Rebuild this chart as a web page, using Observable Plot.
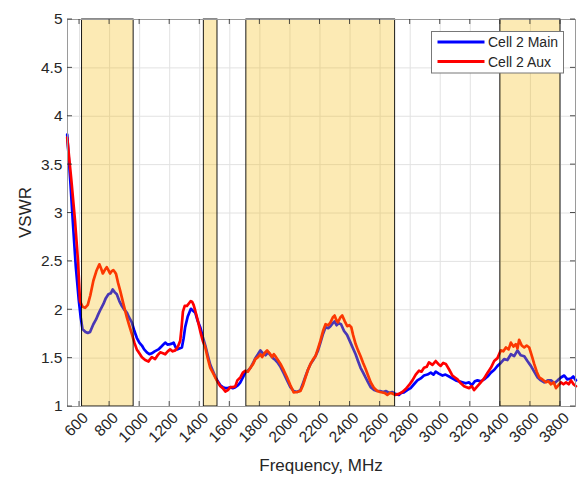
<!DOCTYPE html>
<html>
<head>
<meta charset="utf-8">
<script src="https://cdn.jsdelivr.net/npm/d3@7"></script>
<script src="https://cdn.jsdelivr.net/npm/@observablehq/plot@0.6"></script>
<style>
  body { margin: 0; background: white; }
</style>
</head>
<body>
<div id="chart"></div>
<script>
// ---- Data ----
const xTicks = [600, 800, 1000, 1200, 1400, 1600, 1800, 2000, 2200, 2400, 2600, 2800, 3000, 3200, 3400, 3600, 3800];
const yTicks = [1, 1.5, 2, 2.5, 3, 3.5, 4, 4.5, 5];

const bandStart = [617, 1427, 1710, 3400];
const bandEnd   = [960, 1518, 2700, 3800];

const seriesNames = ["Cell 2 Main", "Cell 2 Aux"];

const mainFreq = [518,540,555,575,595,608,620,640,655,670,692,710,725,742,759,775,792,808,821,835,848,865,881,898,915,930,948,965,981,998,1015,1030,1048,1065,1081,1100,1125,1145,1170,1185,1203,1215,1226,1237,1248,1265,1281,1292,1303,1320,1341,1355,1370,1385,1403,1420,1437,1453,1470,1487,1503,1520,1537,1553,1570,1587,1603,1620,1637,1655,1670,1687,1703,1720,1737,1755,1770,1787,1803,1820,1837,1855,1870,1887,1903,1920,1937,1960,1981,2003,2025,2048,2070,2087,2103,2120,2137,2155,2170,2187,2203,2220,2237,2255,2270,2285,2297,2310,2325,2340,2360,2380,2403,2420,2437,2453,2470,2487,2503,2520,2537,2560,2580,2600,2620,2640,2660,2680,2700,2725,2740,2758,2780,2803,2825,2848,2870,2892,2915,2937,2955,2970,2990,3015,3035,3059,3080,3103,3125,3148,3170,3192,3210,3230,3248,3270,3292,3315,3337,3360,3381,3403,3425,3447,3470,3492,3514,3535,3559,3580,3603,3625,3648,3670,3692,3715,3737,3760,3781,3803,3825,3845,3870,3885,3903];
const mainVSWR = [3.81,3.30,2.92,2.45,2.10,1.92,1.80,1.77,1.76,1.77,1.85,1.90,1.955,2.01,2.06,2.12,2.16,2.17,2.21,2.18,2.16,2.09,2.04,2.00,1.97,1.92,1.87,1.78,1.71,1.66,1.63,1.59,1.56,1.54,1.55,1.57,1.59,1.62,1.66,1.64,1.645,1.65,1.66,1.62,1.59,1.60,1.61,1.70,1.82,1.93,2.01,1.99,1.97,1.89,1.82,1.72,1.63,1.53,1.43,1.37,1.31,1.26,1.22,1.20,1.19,1.19,1.20,1.19,1.20,1.22,1.25,1.30,1.35,1.37,1.40,1.45,1.50,1.54,1.58,1.55,1.53,1.56,1.53,1.50,1.48,1.45,1.41,1.34,1.27,1.20,1.16,1.15,1.17,1.24,1.31,1.38,1.44,1.48,1.52,1.58,1.66,1.75,1.82,1.81,1.83,1.86,1.88,1.84,1.86,1.85,1.78,1.74,1.66,1.60,1.54,1.47,1.40,1.35,1.30,1.25,1.20,1.17,1.16,1.16,1.15,1.16,1.14,1.15,1.13,1.12,1.14,1.145,1.17,1.19,1.23,1.27,1.29,1.32,1.33,1.35,1.33,1.36,1.34,1.32,1.33,1.31,1.29,1.27,1.26,1.25,1.24,1.25,1.22,1.26,1.27,1.26,1.28,1.31,1.35,1.38,1.42,1.45,1.49,1.48,1.54,1.52,1.58,1.53,1.52,1.47,1.42,1.36,1.30,1.27,1.25,1.27,1.27,1.24,1.27,1.30,1.32,1.28,1.29,1.31,1.27];

const auxFreq = [518,545,570,590,603,620,637,655,672,692,712,732,745,755,768,781,792,803,815,825,835,843,856,870,892,915,930,948,965,981,998,1015,1037,1059,1070,1081,1092,1103,1120,1137,1155,1170,1187,1203,1220,1237,1255,1270,1278,1288,1300,1315,1330,1340,1350,1359,1370,1385,1403,1420,1437,1453,1470,1487,1503,1520,1537,1553,1570,1587,1603,1620,1637,1650,1670,1687,1703,1720,1737,1755,1770,1787,1803,1815,1830,1848,1865,1881,1893,1903,1920,1937,1960,1981,2003,2025,2048,2070,2087,2103,2120,2137,2155,2170,2187,2203,2220,2237,2255,2270,2285,2297,2310,2319,2335,2348,2365,2381,2395,2408,2420,2437,2453,2470,2487,2503,2520,2537,2560,2581,2600,2615,2630,2648,2665,2681,2700,2725,2748,2770,2792,2815,2837,2859,2875,2892,2910,2925,2948,2970,2987,3003,3020,3037,3060,3081,3098,3115,3137,3159,3175,3192,3210,3225,3248,3270,3292,3315,3337,3359,3381,3403,3420,3437,3455,3470,3487,3503,3514,3525,3542,3559,3575,3592,3610,3625,3642,3659,3680,3703,3720,3737,3755,3770,3787,3803,3820,3837,3855,3870,3887,3903];
const auxVSWR = [3.78,3.35,2.92,2.50,2.09,2.03,2.02,2.05,2.15,2.30,2.40,2.47,2.42,2.375,2.41,2.44,2.41,2.375,2.40,2.41,2.39,2.37,2.28,2.20,2.06,1.92,1.84,1.75,1.66,1.59,1.55,1.51,1.48,1.465,1.49,1.51,1.50,1.49,1.53,1.56,1.55,1.54,1.57,1.59,1.57,1.58,1.62,1.68,1.80,1.98,2.04,2.04,2.07,2.09,2.08,2.05,1.99,1.90,1.78,1.68,1.61,1.50,1.40,1.35,1.30,1.25,1.21,1.19,1.155,1.17,1.20,1.20,1.21,1.27,1.30,1.35,1.37,1.36,1.40,1.44,1.49,1.51,1.54,1.51,1.55,1.58,1.55,1.51,1.54,1.52,1.48,1.44,1.37,1.30,1.22,1.145,1.15,1.16,1.22,1.30,1.38,1.44,1.49,1.52,1.60,1.68,1.78,1.85,1.84,1.87,1.92,1.94,1.89,1.87,1.92,1.94,1.88,1.83,1.84,1.82,1.74,1.645,1.58,1.52,1.45,1.39,1.32,1.25,1.19,1.16,1.15,1.145,1.14,1.12,1.14,1.135,1.12,1.13,1.15,1.18,1.22,1.27,1.33,1.37,1.36,1.40,1.41,1.455,1.43,1.47,1.44,1.42,1.45,1.44,1.38,1.32,1.30,1.28,1.24,1.21,1.20,1.19,1.21,1.17,1.21,1.25,1.29,1.35,1.40,1.47,1.50,1.58,1.57,1.61,1.59,1.66,1.62,1.645,1.60,1.69,1.63,1.61,1.63,1.61,1.52,1.44,1.36,1.30,1.28,1.25,1.26,1.23,1.25,1.19,1.22,1.25,1.23,1.25,1.23,1.27,1.23,1.21];

// ---- Build tables ----
const mainData = mainFreq.map((f, i) => ({f, v: mainVSWR[i]}));
const auxData = auxFreq.map((f, i) => ({f, v: auxVSWR[i]}));
const bands = bandStart.map((s, i) => ({x1: s, x2: bandEnd[i]}));

const colors = ["#0000ff", "#ff0000"];
const FONT = "'Liberation Sans', Arial, Helvetica, sans-serif";

const chart = Plot.plot({
  width: 581,
  height: 480,
  marginLeft: 67,
  marginRight: 6,
  marginTop: 19,
  marginBottom: 74,
  style: {fontFamily: FONT, fontSize: "15.5px", color: "#262626", background: "white"},
  x: {domain: [520, 3900]},
  y: {domain: [1, 5]},
  marks: [
    Plot.gridX(xTicks, {stroke: "#e2e2e2", strokeOpacity: 1}),
    Plot.gridY(yTicks, {stroke: "#e2e2e2", strokeOpacity: 1}),
    Plot.line(mainData, {x: "f", y: "v", stroke: colors[0], strokeWidth: 2.7, strokeLinejoin: "round"}),
    Plot.line(auxData, {x: "f", y: "v", stroke: colors[1], strokeWidth: 2.7, strokeLinejoin: "round"}),
    Plot.rect(bands, {x1: "x1", x2: "x2", y1: 1, y2: 5, fill: "#F5B905", fillOpacity: 0.3, stroke: "#000", strokeWidth: 0.9}),
    Plot.frame({stroke: "#9a9a9a"}),
    Plot.axisX({ticks: xTicks, tickSize: 0, tickPadding: 9, dx: 6, tickRotate: -45, label: null, fontSize: 15.5, tickFormat: d => String(d)}),
    Plot.axisY({ticks: yTicks, tickSize: 0, tickPadding: 5, label: null, fontSize: 15.5, tickFormat: d => String(d)})
  ]
});

document.getElementById("chart").appendChild(chart);

// ---- Inward ticks, axis labels, legend ----
const svg = d3.select(chart);
const sx = chart.scale("x"), sy = chart.scale("y");
const [x0, x1] = sx.range, [y0, y1] = sy.range; // y0 bottom, y1 top
const L = 5;
const tg = svg.append("g").attr("stroke", "#262626").attr("stroke-width", 0.8);
xTicks.forEach(t => {
  const x = sx.apply(t);
  tg.append("line").attr("x1", x).attr("x2", x).attr("y1", y0).attr("y2", y0 - L);
  tg.append("line").attr("x1", x).attr("x2", x).attr("y1", y1).attr("y2", y1 + L);
});
yTicks.forEach(t => {
  const y = sy.apply(t);
  tg.append("line").attr("x1", x0).attr("x2", x0 + L).attr("y1", y).attr("y2", y);
  tg.append("line").attr("x1", x1).attr("x2", x1 - L).attr("y1", y).attr("y2", y);
});

svg.append("text")
  .attr("x", (x0 + x1) / 2).attr("y", 471)
  .attr("text-anchor", "middle")
  .attr("font-family", FONT).attr("font-size", 17).attr("fill", "#262626")
  .text("Frequency, MHz");

svg.append("text")
  .attr("transform", `translate(31,${(y0 + y1) / 2}) rotate(-90)`)
  .attr("text-anchor", "middle")
  .attr("font-family", FONT).attr("font-size", 17).attr("fill", "#262626")
  .text("VSWR");

const lg = svg.append("g");
lg.append("rect").attr("x", 431.5).attr("y", 31.5).attr("width", 132).attr("height", 41.5)
  .attr("fill", "white").attr("stroke", "#777").attr("stroke-width", 1);
seriesNames.forEach((name, i) => {
  const y = 42 + i * 19.5;
  lg.append("line").attr("x1", 437.5).attr("x2", 484.5).attr("y1", y).attr("y2", y)
    .attr("stroke", colors[i]).attr("stroke-width", 3);
  lg.append("text").attr("x", 488).attr("y", y + 5)
    .attr("text-anchor", "start")
    .attr("font-family", FONT).attr("font-size", 14).attr("fill", "#262626")
    .text(name);
});
</script>
</body>
</html>
